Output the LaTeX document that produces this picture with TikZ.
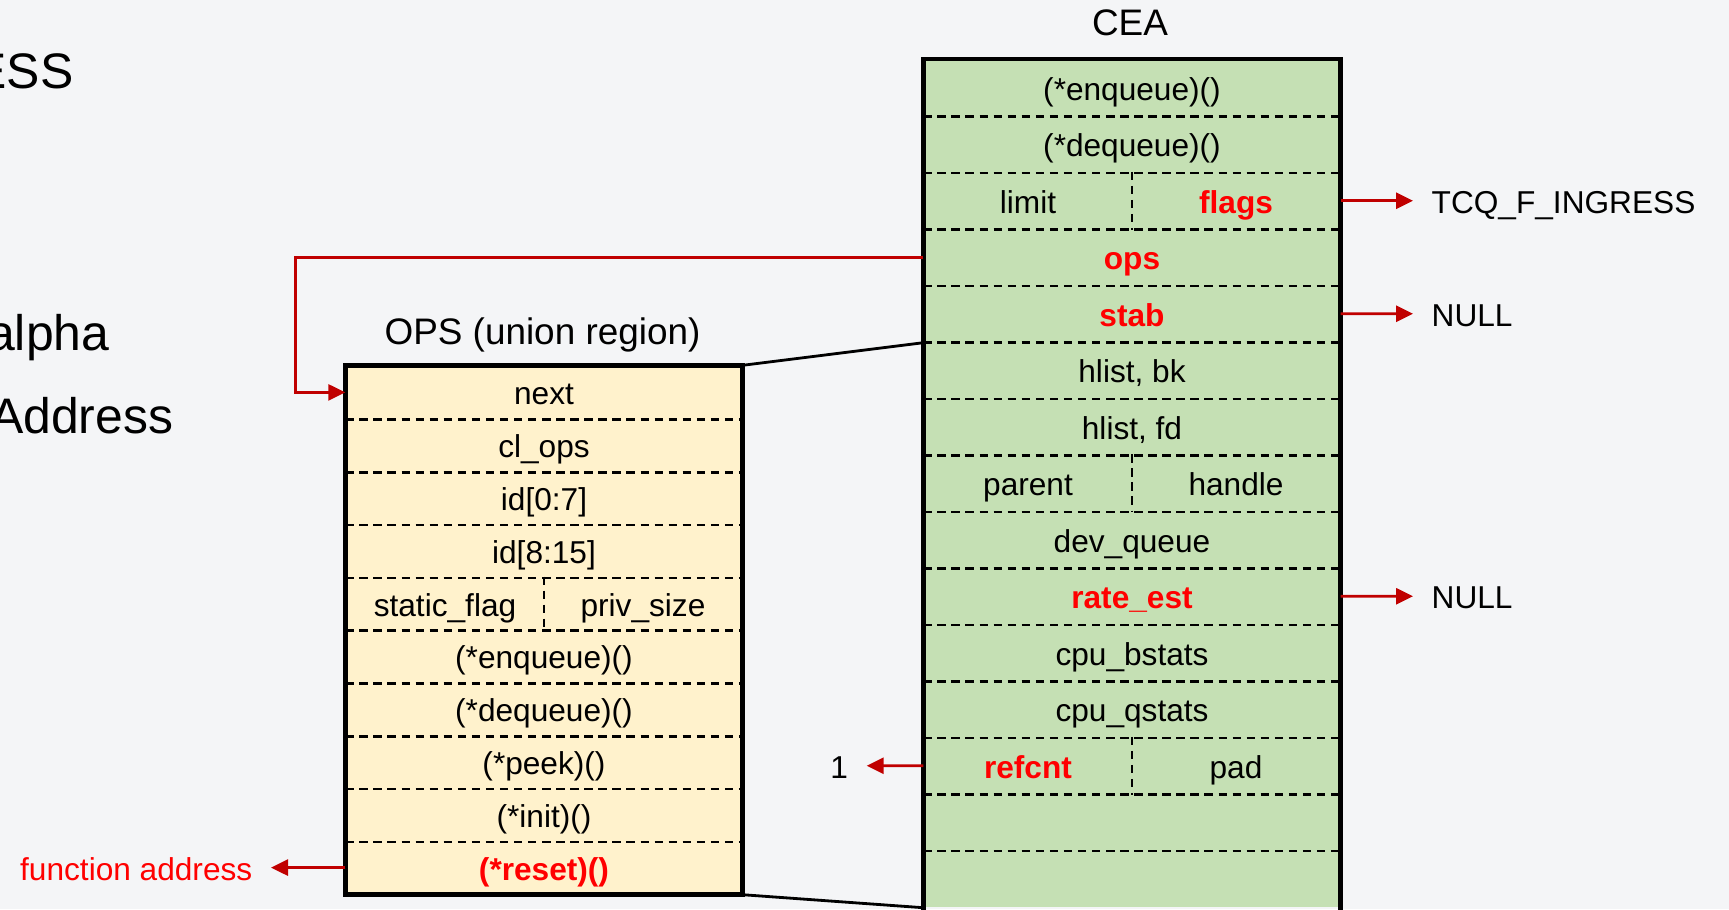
\documentclass[tikz,border=0pt]{standalone}
\usepackage{fontspec}
\setmainfont{Liberation Sans}
\usepackage{xcolor}
\usepackage{tikz}
\usetikzlibrary{arrows.meta,positioning,calc}

\definecolor{bgcolor}{HTML}{F4F5F7}
\definecolor{ceagreen}{HTML}{C5E0B4}
\definecolor{opsyellow}{HTML}{FFF2CC}
\definecolor{linkred}{HTML}{C00000}
\definecolor{hotred}{HTML}{FF0000}

\newcommand{\hot}[1]{\textcolor{hotred}{\bfseries #1}}

\begin{document}
\begin{tikzpicture}[every node/.style={font=\fontsize{9}{11}\selectfont, text height=0.85em, text depth=0.134em},
  ceacell/.style={rectangle, minimum width=4.16cm, minimum height=0.565cm, inner sep=0pt, fill=ceagreen},
  opscell/.style={rectangle, minimum width=3.96cm, minimum height=0.528cm, inner sep=0pt, fill=opsyellow},
  ceahalf/.style={rectangle, minimum width=2.08cm, minimum height=0.565cm, inner sep=0pt},
  opshalf/.style={rectangle, minimum width=1.98cm, minimum height=0.528cm, inner sep=0pt},
  title/.style={font=\fontsize{10.5}{12}\selectfont},
  big/.style={font=\fontsize{14.2}{16}\selectfont, inner sep=0pt},
  val/.style={inner ysep=0pt, inner xsep=0.18cm},
  sep/.style={line width=0.7pt, dash pattern=on 2.4pt off 1.6pt},
  frame/.style={line width=1.3pt},
  link/.style={line width=0.8pt},
  ptr/.style={linkred, line width=0.75pt, -{Triangle[length=0.17cm,width=0.16cm]}}]

\useasboundingbox (0,0) rectangle (17.29,-9.09);
\clip (0,0) rectangle (17.29,-9.09);
\fill[bgcolor] (0,0) rectangle (17.29,-9.09);

% text running in from the left
\node[big, anchor=base east] (t1) at (0.74,-0.88) {ESS};
\node[big, anchor=base east] (t2) at (1.10,-3.50) {alpha};
\node[big, anchor=base east] (t3) at (1.74,-4.33) {Address};

% CEA fields
\node[title] (ceatitle) at (11.30,-0.225) {CEA};
\foreach \lbl [count=\i] in {{(*enqueue)()}, {(*dequeue)()}, {}, {\hot{ops}}, {\hot{stab}},
    {hlist, bk}, {hlist, fd}, {}, {dev\_queue}, {\hot{rate\_est}},
    {cpu\_bstats}, {cpu\_qstats}, {}, {}, {}}
  \node[ceacell] (cea\i) at (11.32,{-0.595-(\i-0.5)*0.565}) {\lbl};

\node[ceahalf, anchor=west] (limit) at (cea3.west) {limit};
\node[ceahalf, anchor=east] (flags) at (cea3.east) {\hot{flags}};
\node[ceahalf, anchor=west] (parent) at (cea8.west) {parent};
\node[ceahalf, anchor=east] (handle) at (cea8.east) {handle};
\node[ceahalf, anchor=west] (refcnt) at (cea13.west) {\hot{refcnt}};
\node[ceahalf, anchor=east] (pad) at (cea13.east) {pad};

\foreach \i in {1,...,14}
  \draw[sep] (cea\i.south west) -- (cea\i.south east);
\foreach \i in {3,8,13}
  \draw[sep] (cea\i.north) -- (cea\i.south);

% OPS fields
\node[title] (opstitle) at (5.425,-3.32) {OPS (union region)};
\foreach \lbl [count=\i] in {{next}, {cl\_ops}, {id[0:7]}, {id[8:15]}, {},
    {(*enqueue)()}, {(*dequeue)()}, {(*peek)()}, {(*init)()}, {\hot{(*reset)()}}}
  \node[opscell] (ops\i) at (5.44,{-3.66-(\i-0.5)*0.528}) {\lbl};

\node[opshalf, anchor=west] (sflag) at (ops5.west) {static\_flag};
\node[opshalf, anchor=east] (psize) at (ops5.east) {priv\_size};

\foreach \i in {1,...,9}
  \draw[sep] (ops\i.south west) -- (ops\i.south east);
\draw[sep] (ops5.north) -- (ops5.south);

% frames and zoom lines
\draw[link] (ops1.north east) -- (cea5.south west);
\draw[link] (ops10.south east) -- (cea15.south west);
\draw[frame] ($(cea15.south west)+(0,-0.1)$) -- (cea1.north west) -- (cea1.north east) -- ($(cea15.south east)+(0,-0.1)$);
\draw[frame] (ops1.north west) rectangle (ops10.south east);

% values
\node[val, anchor=west] (ingress) at (14.13,-2.0075) {TCQ\_F\_INGRESS};
\node[val, anchor=west] (stabval) at (14.13,-3.1375) {NULL};
\node[val, anchor=west] (rateval) at (14.13,-5.9625) {NULL};
\node[val, anchor=east] (refval) at (8.667,-7.6575) {1};
\node[val, anchor=east, text=hotred] (resetval) at (2.71,-8.676) {function address};
\coordinate (bend) at (2.955,0);

\draw[ptr] (cea3.east) -- (ingress.west);
\draw[ptr] (cea5.east) -- (stabval.west);
\draw[ptr] (cea10.east) -- (rateval.west);
\draw[ptr] (cea13.west) -- (refval.east);
\draw[ptr] (ops10.west) -- (resetval.east);
\draw[ptr] (cea4.west) -- (cea4.west -| bend) |- (ops1.west);

\end{tikzpicture}
\end{document}
